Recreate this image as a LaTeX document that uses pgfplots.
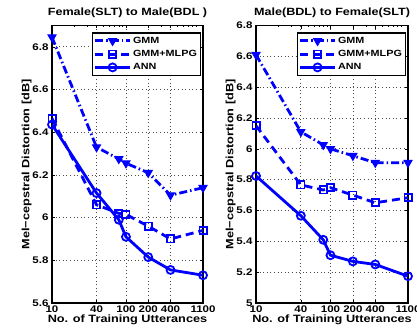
\documentclass[border=0pt]{standalone}
\usepackage{fontspec}
\setmainfont{Liberation Sans}[FakeStretch=1.2]
\usepackage{pgfplots}
\pgfplotsset{compat=1.18}
\definecolor{mblue}{RGB}{0,0,255}
\pgfplotsset{
    scale only axis, width=151pt, height=277.5pt,
    xmin=10, xmax=1100,
    xtick={10,40,100,200,400,1100}, xticklabels={10,40,100,200,400,1100},
    minor xtick={20,30,50,60,70,80,90,300,500,600,700,800,900},
    grid=major, major grid style={dash pattern=on 0.8pt off 2.8pt, black!70, line width=0.7pt},
    axis line style={line width=1.2pt}, tick align=inside,
    major tick length=3pt, minor tick length=1.5pt,
    tick style={black, line width=0.6pt},
    ticklabel style={font=\fontsize{9.6}{10}\selectfont\bfseries},
    xticklabel style={yshift=1pt},
    /pgf/number format/assume math mode=true,
    label style={font=\fontsize{10.6}{12}\selectfont\bfseries},
    title style={font=\fontsize{10.5}{12}\selectfont\bfseries, yshift=-2pt},
    xlabel style={yshift=4pt},
    ylabel style={yshift=-6pt},
    legend style={at={(rel axis cs:0.99,0.975)}, anchor=north east, draw=black, line width=1.1pt,
      font=\fontsize{9}{10}\selectfont\bfseries, inner sep=2pt, row sep=1.5pt, fill=white},
    legend cell align=left,
    legend image code/.code={\draw[mark repeat=2,mark phase=2,#1] plot coordinates {(0cm,0cm)(0.6cm,0cm)(1.2cm,0cm)};},
}
\tikzset{
  gmm/.style={mblue, line width=2.8pt, dash pattern=on 8pt off 3pt on 1.5pt off 3pt, mark=triangle*, mark size=4.6pt, mark options={solid, rotate=180, line width=1pt}},
  mlpg/.style={mblue, line width=2.8pt, dash pattern=on 8pt off 5pt, mark=square, mark size=3.6pt, mark options={solid, line width=1.8pt}},
  ann/.style={mblue, line width=2.8pt, solid, mark=o, mark size=4pt, mark options={solid, line width=1.8pt}},
}
\begin{document}
\begin{tikzpicture}
\path[use as bounding box] (0pt,0pt) rectangle (417pt,335pt);
\begin{semilogxaxis}[at={(52pt,32pt)}, anchor=south west, ymin=5.6, ymax=6.9,
  ytick={5.6,5.8,6,6.2,6.4,6.6,6.8}, yticklabels={5.6,5.8,6,6.2,6.4,6.6,6.8},
  xlabel={No. of Training Utterances},
  ylabel={Mel−cepstral Distortion [dB]},
  title={Female(SLT) to Male(BDL )}]
\addplot[gmm] coordinates {(10,6.845) (40,6.33) (80,6.275) (100,6.255) (200,6.21) (400,6.105) (1100,6.14)};
\addlegendentry{GMM}
\addplot[mlpg] coordinates {(10,6.465) (40,6.06) (80,6.02) (100,6.015) (200,5.96) (400,5.90) (1100,5.94)};
\addlegendentry{GMM+MLPG}
\addplot[ann] coordinates {(10,6.436) (40,6.115) (80,5.99) (100,5.91) (200,5.815) (400,5.755) (1100,5.73)};
\addlegendentry{ANN}
\end{semilogxaxis}
\begin{semilogxaxis}[at={(256pt,32pt)}, anchor=south west, width=152pt, ymin=5, ymax=6.8,
  ytick={5,5.2,5.4,5.6,5.8,6,6.2,6.4,6.6,6.8}, yticklabels={5,5.2,5.4,5.6,5.8,6,6.2,6.4,6.6,6.8},
  xlabel={No. of Training Utterances},
  ylabel={Mel−cepstral Distortion [dB]},
  title={Male(BDL) to Female(SLT)}]
\addplot[gmm] coordinates {(10,6.61) (40,6.11) (80,6.026) (100,6.0) (200,5.955) (400,5.91) (1100,5.91)};
\addlegendentry{GMM}
\addplot[mlpg] coordinates {(10,6.15) (40,5.766) (80,5.733) (100,5.748) (200,5.70) (400,5.65) (1100,5.683)};
\addlegendentry{GMM+MLPG}
\addplot[ann] coordinates {(10,5.824) (40,5.566) (80,5.41) (100,5.31) (200,5.27) (400,5.25) (1100,5.174)};
\addlegendentry{ANN}
\end{semilogxaxis}
\end{tikzpicture}
\end{document}
